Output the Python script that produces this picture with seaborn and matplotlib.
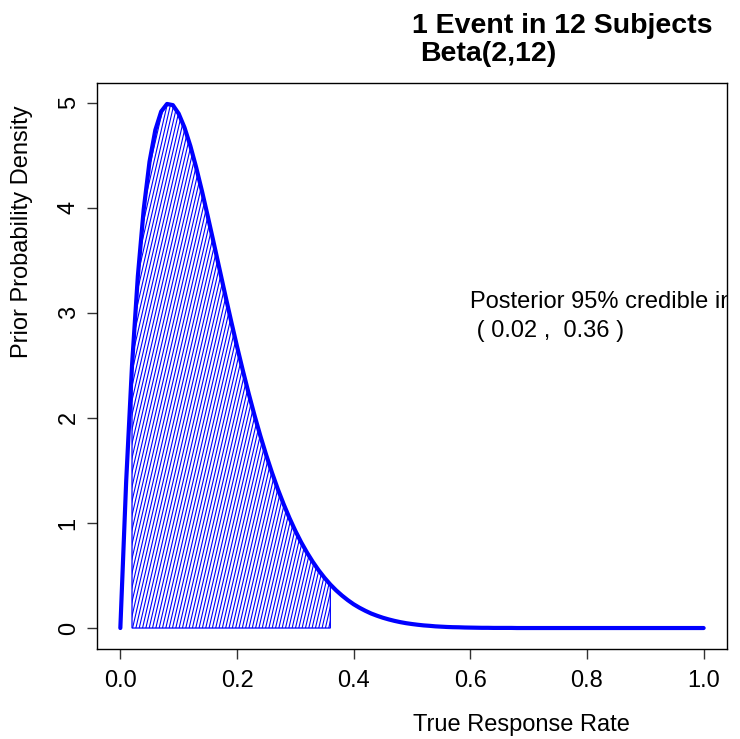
import matplotlib
matplotlib.use('Agg')
import matplotlib.pyplot as plt
from matplotlib.patches import Polygon
from matplotlib.collections import LineCollection
import seaborn as sns
import pandas as pd
import numpy as np

# response rate grid (step 0.01) and density
rate = np.round(np.arange(0, 1.0001, 0.01), 2)
density = [0.0, 1.397, 2.498, 3.348, 3.982, 4.437, 4.739, 4.915, 4.987, 4.976,
           4.895, 4.762, 4.588, 4.383, 4.156, 3.915, 3.667, 3.416, 3.165, 2.919,
           2.680, 2.451, 2.232, 2.024, 1.829, 1.647, 1.478, 1.321, 1.178, 1.046,
           0.925, 0.816, 0.718, 0.629, 0.549, 0.478, 0.414, 0.358, 0.309, 0.265,
           0.226, 0.193, 0.164, 0.138, 0.117, 0.098, 0.082, 0.068, 0.056, 0.046,
           0.038, 0.031, 0.025, 0.021, 0.016, 0.013, 0.010, 0.008, 0.007, 0.005,
           0.004, 0.003, 0.002, 0.002, 0.001, 0.001, 0.001, 0.001, 0.0, 0.0,
           0.0, 0.0, 0.0, 0.0, 0.0, 0.0, 0.0, 0.0, 0.0, 0.0,
           0.0, 0.0, 0.0, 0.0, 0.0, 0.0, 0.0, 0.0, 0.0, 0.0,
           0.0, 0.0, 0.0, 0.0, 0.0, 0.0, 0.0, 0.0, 0.0, 0.0,
           0.0]
ci_low = 0.02
ci_high = 0.36
x_ticks = [0.0, 0.2, 0.4, 0.6, 0.8, 1.0]
x_ticklabels = ['0.0', '0.2', '0.4', '0.6', '0.8', '1.0']
y_ticks = [0, 1, 2, 3, 4, 5]

title_line1 = '1 Event in 12 Subjects'
title_line2 = 'Beta(2,12)'
interval_text = 'Posterior 95% credible interval'
interval_vals = ' ( %.2f ,  %.2f )' % (ci_low, ci_high)


def main():
    sns.set_style('white')
    plt.rcParams['font.family'] = ['Liberation Sans', 'DejaVu Sans']
    plt.rcParams['text.color'] = 'black'
    plt.rcParams['xtick.labelcolor'] = 'black'
    plt.rcParams['ytick.labelcolor'] = 'black'

    df = pd.DataFrame({'rate': rate, 'density': density})

    fig = plt.figure(figsize=(7.4, 7.39), dpi=100)
    ax = fig.add_axes([0.1311, 0.1218, 0.9824 - 0.1311, 0.8877 - 0.1218])

    # shaded credible interval polygon
    inside = df[(df['rate'] >= ci_low - 1e-9) & (df['rate'] <= ci_high + 1e-9)]
    pts = [(ci_low, 0)] + list(zip(inside['rate'], inside['density'])) + [(ci_high, 0)]
    poly = Polygon(pts, closed=True, facecolor='none', edgecolor='#0000ff', linewidth=0.9, zorder=2)
    ax.add_patch(poly)

    # steep hatch lines like R's polygon(density=...)
    step = 0.0057
    slope = 24.0
    segs = [[(x0, -1.0), (x0 + 7.0 / slope, 6.0)] for x0 in np.arange(-0.3, 0.45, step)]
    hatch = LineCollection(segs, colors='#0000ff', linewidths=0.8, zorder=2)
    ax.add_collection(hatch)
    hatch.set_clip_path(poly)

    sns.lineplot(x='rate', y='density', data=df, color='#0000ff', linewidth=3, ax=ax, zorder=3)

    ymax = max(density)
    ax.set_xlim(-0.04, 1.04)
    ax.set_ylim(-0.04 * ymax, 1.04 * ymax)
    ax.set_xticks(x_ticks)
    ax.set_xticklabels(x_ticklabels)
    ax.set_yticks(y_ticks)
    ax.set_xlabel('')
    ax.set_ylabel('')

    for s in ax.spines.values():
        s.set_visible(True)
        s.set_color('black')
        s.set_linewidth(1)

    ax.tick_params(axis='both', direction='out', length=7.5, width=1, color='#333333', labelsize=17)
    ax.tick_params(axis='x', pad=7.5, bottom=True)
    ax.tick_params(axis='y', pad=5, left=True)
    for lbl in ax.get_yticklabels():
        lbl.set_rotation(90)
        lbl.set_va('center')

    ax.text(0.6, 3.05, interval_text, fontsize=17, ha='left', va='baseline', clip_on=True)
    ax.text(0.6, 2.77, interval_vals, fontsize=17, ha='left', va='baseline', clip_on=True)

    fig.text(412 / 740, 1 - 33 / 739, title_line1, fontsize=20.5, fontweight='bold', ha='left', va='baseline')
    fig.text(420 / 740, 1 - 61 / 739, title_line2, fontsize=20.5, fontweight='bold', ha='left', va='baseline')
    fig.text(413 / 740, 1 - 731 / 739, 'True Response Rate', fontsize=17, ha='left', va='baseline')
    fig.text(22 / 740, 1 - 232 / 739, 'Prior Probability Density', fontsize=17, rotation=90, ha='center', va='center')

    fig.savefig('out.png', dpi=100)
    plt.close()


if __name__ == '__main__':
    main()
